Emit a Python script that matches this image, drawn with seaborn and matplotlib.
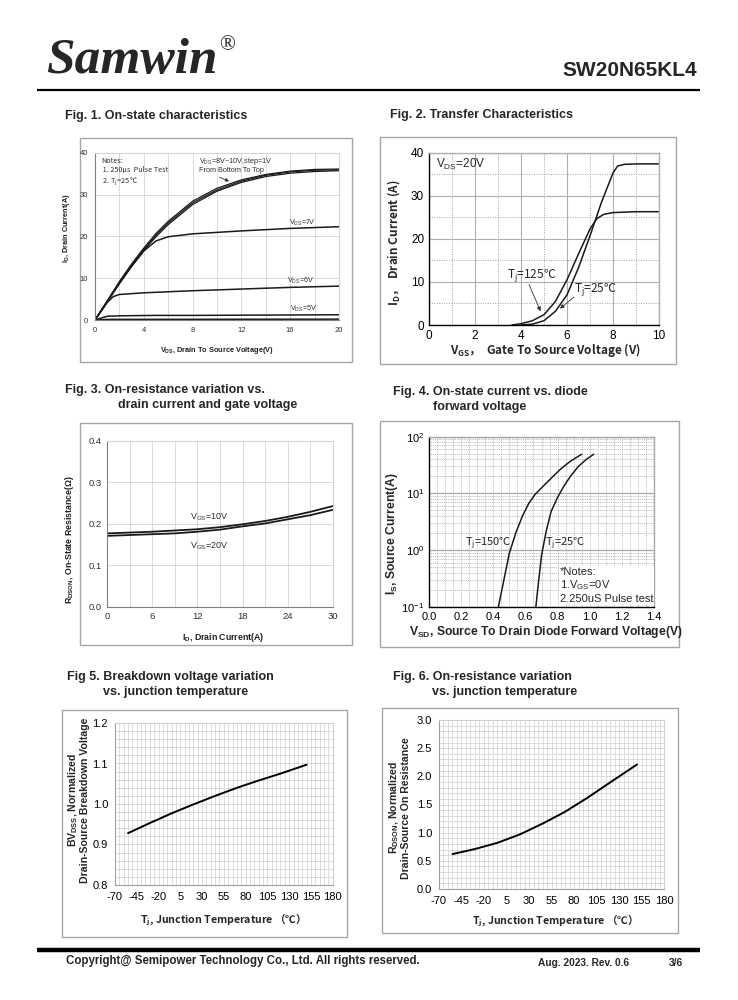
import numpy as np
import matplotlib
matplotlib.use("Agg")
import matplotlib.pyplot as plt
import seaborn as sns
from matplotlib.patches import Rectangle
from matplotlib.lines import Line2D
from matplotlib.ticker import MultipleLocator, LogLocator, FormatStrFormatter, NullFormatter, FixedLocator

# ---------------- data ----------------
# Fig 1: output characteristics
fig1_vds = [0, 1, 2, 3, 4, 5, 6, 8, 10, 12, 14, 16, 18, 20]
fig1_id_vgs8 = [0, 4.4, 8.8, 12.9, 16.6, 19.9, 22.8, 27.6, 30.8, 32.9, 34.3, 35.1, 35.5, 35.7]
fig1_id_vgs9 = [0, 4.5, 9.0, 13.1, 16.9, 20.3, 23.2, 28.0, 31.1, 33.2, 34.6, 35.4, 35.8, 35.9]
fig1_id_vgs10 = [0, 4.6, 9.2, 13.4, 17.2, 20.7, 23.6, 28.4, 31.5, 33.5, 34.8, 35.6, 36.0, 36.1]
fig1_vds7 = [0, 1, 2, 3, 4, 5, 6, 8, 12, 16, 20]
fig1_id_vgs7 = [0, 4.3, 8.7, 12.8, 16.5, 18.9, 19.9, 20.6, 21.3, 21.9, 22.3]
fig1_vds6 = [0, 1, 1.5, 2, 4, 8, 12, 16, 20]
fig1_id_vgs6 = [0, 4.2, 5.6, 6.1, 6.5, 7.0, 7.4, 7.8, 8.1]
fig1_vds5 = [0, 1, 2, 5, 8, 12, 16, 20]
fig1_id_vgs5 = [0, 0.9, 1.0, 1.1, 1.1, 1.15, 1.2, 1.25]
fig1_vds4 = [0, 1, 20]
fig1_id_vgs4 = [0, 0.15, 0.2]

# Fig 2: transfer characteristics
fig2_vgs_125 = [3.6, 4.0, 4.5, 5.0, 5.5, 6.0, 6.5, 7.0, 7.3, 7.6, 8.0, 8.5, 9.0, 10.0]
fig2_id_125 = [0, 0.3, 1.0, 2.4, 5.5, 10.5, 16.5, 22.3, 24.7, 25.7, 26.1, 26.2, 26.3, 26.3]
fig2_vgs_25 = [4.0, 4.5, 5.0, 5.5, 6.0, 6.5, 7.0, 7.5, 8.0, 8.2, 8.5, 9.0, 10.0]
fig2_id_25 = [0, 0.2, 1.0, 3.2, 7.0, 13.3, 20.7, 28.5, 35.3, 36.9, 37.3, 37.4, 37.4]

# Fig 3: on-resistance vs drain current
fig3_id = [0, 3, 6, 9, 12, 15, 18, 21, 24, 27, 30]
fig3_r_vgs10 = [0.177, 0.179, 0.181, 0.184, 0.187, 0.192, 0.199, 0.207, 0.217, 0.229, 0.243]
fig3_r_vgs20 = [0.171, 0.173, 0.175, 0.177, 0.181, 0.186, 0.194, 0.201, 0.211, 0.221, 0.234]

# Fig 4: body diode forward characteristics
fig4_vsd_150 = [0.432, 0.46, 0.50, 0.54, 0.58, 0.62, 0.66, 0.70, 0.76, 0.82, 0.88, 0.95]
fig4_is_150 = [0.1, 0.245, 0.88, 2.0, 3.9, 6.6, 9.6, 12.5, 18.5, 27.0, 37.0, 49.0]
fig4_vsd_25 = [0.665, 0.68, 0.70, 0.73, 0.76, 0.80, 0.84, 0.88, 0.93, 0.98, 1.025]
fig4_is_25 = [0.1, 0.25, 0.8, 2.2, 4.8, 8.5, 13.5, 20.0, 30.0, 40.0, 49.0]

# Fig 5: breakdown voltage vs temperature
fig5_tj = [-55, -30, -5, 20, 45, 70, 95, 120, 150]
fig5_bv = [0.928, 0.953, 0.977, 0.999, 1.020, 1.040, 1.058, 1.075, 1.097]

# Fig 6: on-resistance vs temperature
fig6_tj = [-55, -30, -5, 20, 45, 70, 95, 120, 150]
fig6_r = [0.62, 0.71, 0.82, 0.97, 1.16, 1.37, 1.62, 1.89, 2.21]

temp_ticks = [-70, -45, -20, 5, 30, 55, 80, 105, 130, 155, 180]

# ---------------- style ----------------
sns.set_style("white")
plt.rcParams['font.family'] = ['Liberation Sans', 'Noto Sans CJK SC', 'DejaVu Sans']
plt.rcParams['mathtext.default'] = 'regular'
plt.rcParams['axes.unicode_minus'] = False

W, H = 738, 1000
fig = plt.figure(figsize=(7.38, 10), dpi=100)
fig.patch.set_facecolor('white')
CJK = 'Noto Sans CJK SC'


def px_axes(x0, y0, x1, y1):
    return fig.add_axes([x0 / W, 1 - y1 / H, (x1 - x0) / W, (y1 - y0) / H])


def frame(x0, y0, x1, y1, color='#a6a6a6', lw=1.0):
    fig.add_artist(Rectangle((x0 / W, 1 - y1 / H), (x1 - x0) / W, (y1 - y0) / H,
                             transform=fig.transFigure, fill=False,
                             edgecolor=color, lw=lw, zorder=0))


def ftext(x, y, s, **kw):
    kw.setdefault('va', 'center')
    return fig.text(x / W, 1 - y / H, s, **kw)


def hline(x0, x1, y, lw, color='black'):
    fig.add_artist(Line2D([x0 / W, x1 / W], [1 - y / H, 1 - y / H],
                          transform=fig.transFigure, color=color, lw=lw,
                          solid_capstyle='butt'))


def style_spines(ax, lb='#707070', tr='#c8c8c8', lw=0.8):
    for s in ['left', 'bottom']:
        ax.spines[s].set_color(lb)
        ax.spines[s].set_linewidth(lw)
    for s in ['top', 'right']:
        ax.spines[s].set_color(tr)
        ax.spines[s].set_linewidth(lw)
    ax.set_xlabel('')
    ax.set_ylabel('')


# ---------------- header / footer ----------------
ftext(46, 61, "Samwin", family='Liberation Serif', style='italic', weight='bold',
      fontsize=37, ha='left')
ftext(219, 46, "®", family='Liberation Serif', fontsize=15, ha='left')
ftext(697, 70, "SW20N65KL4", weight='bold', fontsize=15, ha='right')
hline(37, 700, 90, 1.6)
hline(37, 700, 950, 3.2)
ftext(66, 961, "Copyright@ Semipower Technology Co., Ltd. All rights reserved.",
      weight='bold', fontsize=8.3, ha='left')
ftext(538, 963, "Aug. 2023. Rev. 0.6", weight='bold', fontsize=7.3, ha='left')
ftext(669, 963, "3/6", weight='bold', fontsize=7.3, ha='left')

# titles
TS = 9
ftext(65, 116, "Fig. 1. On-state characteristics", weight='bold', fontsize=TS, ha='left')
ftext(390, 115, "Fig. 2. Transfer Characteristics", weight='bold', fontsize=TS, ha='left')
ftext(65, 390, "Fig. 3. On-resistance variation vs.", weight='bold', fontsize=TS, ha='left')
ftext(118, 405, "drain current and gate voltage", weight='bold', fontsize=TS, ha='left')
ftext(393, 392, "Fig. 4. On-state current vs. diode", weight='bold', fontsize=TS, ha='left')
ftext(433, 407, "forward voltage", weight='bold', fontsize=TS, ha='left')
ftext(67, 677, "Fig 5. Breakdown voltage variation", weight='bold', fontsize=TS, ha='left')
ftext(103, 692, "vs. junction temperature", weight='bold', fontsize=TS, ha='left')
ftext(393, 677, "Fig. 6. On-resistance variation", weight='bold', fontsize=TS, ha='left')
ftext(432, 692, "vs. junction temperature", weight='bold', fontsize=TS, ha='left')

# frames
frame(80, 138, 352, 362)
frame(380, 137, 676, 364)
frame(80, 423, 352, 645)
frame(380, 421, 679, 647)
frame(62, 710, 347, 937)
frame(382, 708, 678, 933)

LW = 1.1

# ---------------- Fig 1 ----------------
ax1 = px_axes(95, 152.7, 339, 320)
for ys in [fig1_id_vgs8, fig1_id_vgs9, fig1_id_vgs10]:
    sns.lineplot(x=fig1_vds, y=ys, ax=ax1, color='#1a1a1a', lw=0.9)
sns.lineplot(x=fig1_vds7, y=fig1_id_vgs7, ax=ax1, color='#1a1a1a', lw=LW)
sns.lineplot(x=fig1_vds6, y=fig1_id_vgs6, ax=ax1, color='#1a1a1a', lw=LW)
sns.lineplot(x=fig1_vds5, y=fig1_id_vgs5, ax=ax1, color='#1a1a1a', lw=LW)
sns.lineplot(x=fig1_vds4, y=fig1_id_vgs4, ax=ax1, color='#1a1a1a', lw=LW)
ax1.set_xlim(0, 20)
ax1.set_ylim(0, 40)
ax1.xaxis.set_major_locator(MultipleLocator(4))
ax1.xaxis.set_minor_locator(MultipleLocator(2))
ax1.yaxis.set_major_locator(MultipleLocator(10))
ax1.grid(True, which='both', axis='x', color='#d4d4d4', lw=0.6)
ax1.grid(True, which='major', axis='y', color='#d4d4d4', lw=0.6)
ax1.tick_params(labelsize=5.5, colors='#303030', length=0, pad=5)
ax1.tick_params(which='minor', length=0)
style_spines(ax1, lb='#808080', tr='#d4d4d4')
ax1.text(0.5, 39, "Notes:\n 1. 250μs  Pulse Test\n 2. T$_j$=25 ℃", fontsize=5.2,
         va='top', ha='left', color='#303030', family=CJK, linespacing=1.15)
ax1.text(8.5, 39.3, "V$_{DS}$=8V~10V,step=1V\nFrom Bottom To Top", fontsize=5.2,
         va='top', ha='left', color='#303030', linespacing=1.15)
ax1.annotate("", xy=(11.2, 32.9), xytext=(10.0, 34.4),
             arrowprops=dict(arrowstyle='-|>', color='#303030', lw=0.6,
                             mutation_scale=5))
ax1.text(15.9, 23.2, "V$_{DS}$=7V", fontsize=5.2, color='#303030', va='center')
ax1.text(15.7, 9.3, "V$_{DS}$=6V", fontsize=5.2, color='#303030', va='center')
ax1.text(16.0, 2.6, "V$_{DS}$=5V", fontsize=5.2, color='#303030', va='center')
ftext(66, 228, "I$_D$, Drain Current(A)", rotation=90, weight='bold', fontsize=5.3,
      ha='center', color='#202020')
ftext(217, 350, "V$_{DS}$, Drain To Source Voltage(V)", weight='bold', fontsize=5.3,
      ha='center', color='#202020')

# ---------------- Fig 2 ----------------
ax2 = px_axes(429, 152.7, 659, 325)
sns.lineplot(x=fig2_vgs_125, y=fig2_id_125, ax=ax2, color='#1a1a1a', lw=LW)
sns.lineplot(x=fig2_vgs_25, y=fig2_id_25, ax=ax2, color='#1a1a1a', lw=LW)
ax2.set_xlim(0, 10)
ax2.set_ylim(0, 40)
ax2.xaxis.set_major_locator(MultipleLocator(2))
ax2.xaxis.set_minor_locator(MultipleLocator(1))
ax2.yaxis.set_major_locator(MultipleLocator(10))
ax2.yaxis.set_minor_locator(MultipleLocator(5))
ax2.grid(True, which='major', color='#b0b0b0', lw=0.8)
ax2.grid(True, which='minor', color='#a0a0a0', lw=0.7, ls=(0, (1, 1.5)))
ax2.tick_params(labelsize=8.5, colors='black', length=2, pad=1.5)
ax2.tick_params(which='minor', length=0)
style_spines(ax2, lb='black', tr='#b0b0b0', lw=1.0)
ax2.text(0.3, 37.2, "V$_{DS}$=20V", fontsize=8.5, va='center', ha='left')
ax2.text(3.4, 11.3, "T$_j$=125℃", fontsize=8.5, va='center', ha='left', family=CJK)
ax2.annotate("", xy=(4.9, 2.6), xytext=(4.3, 10.0),
             arrowprops=dict(arrowstyle='-|>', color='#303030', lw=0.6, mutation_scale=6))
ax2.text(6.3, 8.2, "T$_j$=25℃", fontsize=8.5, va='center', ha='left', family=CJK)
ax2.annotate("", xy=(5.6, 3.4), xytext=(6.4, 6.9),
             arrowprops=dict(arrowstyle='-|>', color='#303030', lw=0.6, mutation_scale=6))
ftext(394, 243, "I$_D$，  Drain Current (A)", rotation=90, weight='bold', fontsize=8.5,
      ha='center', family=CJK)
ftext(545, 350, "V$_{GS}$，  Gate To Source Voltage (V)", weight='bold', fontsize=8.5,
      ha='center', family=CJK)

# ---------------- Fig 3 ----------------
ax3 = px_axes(107, 441, 333, 606.7)
sns.lineplot(x=fig3_id, y=fig3_r_vgs10, ax=ax3, color='#1a1a1a', lw=1.3)
sns.lineplot(x=fig3_id, y=fig3_r_vgs20, ax=ax3, color='#1a1a1a', lw=1.3)
ax3.set_xlim(0, 30)
ax3.set_ylim(0, 0.4)
ax3.xaxis.set_major_locator(MultipleLocator(6))
ax3.xaxis.set_minor_locator(MultipleLocator(3))
ax3.yaxis.set_major_locator(MultipleLocator(0.1))
ax3.yaxis.set_major_formatter(FormatStrFormatter('%.1f'))
ax3.grid(True, which='both', axis='x', color='#d4d4d4', lw=0.6)
ax3.grid(True, which='major', axis='y', color='#d4d4d4', lw=0.6)
ax3.tick_params(labelsize=6.8, colors='#303030', length=0, pad=4)
ax3.tick_params(which='minor', length=0)
style_spines(ax3, lb='#808080', tr='#d4d4d4')
ax3.text(11.0, 0.217, "V$_{GS}$=10V", fontsize=6.5, color='#303030', va='center')
ax3.text(11.0, 0.146, "V$_{GS}$=20V", fontsize=6.5, color='#303030', va='center')
ftext(70, 540, "R$_{DSON}$, On-State Resistance(Ω)", rotation=90, weight='bold',
      fontsize=6.3, ha='center', color='#202020')
ftext(223, 638, "I$_D$, Drain Current(A)", weight='bold', fontsize=6.3, ha='center',
      color='#202020')

# ---------------- Fig 4 ----------------
ax4 = px_axes(429, 436.7, 654, 606.7)
sns.lineplot(x=fig4_vsd_150, y=fig4_is_150, ax=ax4, color='#1a1a1a', lw=LW)
sns.lineplot(x=fig4_vsd_25, y=fig4_is_25, ax=ax4, color='#1a1a1a', lw=LW)
ax4.set_yscale('log')
ax4.set_xlim(0, 1.4)
ax4.set_ylim(0.1, 100)
ax4.xaxis.set_major_locator(MultipleLocator(0.2))
ax4.xaxis.set_minor_locator(MultipleLocator(0.05))
ax4.xaxis.set_major_formatter(FormatStrFormatter('%.1f'))
ax4.yaxis.set_major_locator(LogLocator(base=10))
ax4.yaxis.set_minor_locator(LogLocator(base=10, subs=np.arange(2, 10) * 1.0))
ax4.yaxis.set_minor_formatter(NullFormatter())
ax4.grid(True, which='major', axis='y', color='#a8a8a8', lw=0.9)
ax4.grid(True, which='minor', axis='y', color='#a8a8a8', lw=0.6, ls=(0, (1, 1.2)))
ax4.grid(True, which='both', axis='x', color='#a8a8a8', lw=0.6, ls=(0, (1, 1.2)))
ax4.tick_params(labelsize=8, colors='black', length=2, pad=1.5)
ax4.tick_params(which='minor', length=0)
style_spines(ax4, lb='black', tr='#a8a8a8', lw=1.0)
ax4.text(0.225, 1.3, "T$_j$=150℃", fontsize=8, va='center', ha='left', family=CJK)
ax4.text(0.72, 1.3, "T$_j$=25℃", fontsize=8, va='center', ha='left', family=CJK)
ax4.text(0.815, 0.5, "*Notes:\n1.V$_{GS}$=0V\n2.250uS Pulse test", fontsize=8,
         va='top', ha='left', linespacing=1.15,
         bbox=dict(facecolor='white', edgecolor='none', pad=0.5))
ftext(392, 534, "I$_S$, Source Current(A)", rotation=90, weight='bold', fontsize=8.7,
      ha='center')
ftext(546, 632, "V$_{SD}$, Source To Drain Diode Forward Voltage(V)", weight='bold',
      fontsize=8.7, ha='center')

# ---------------- Fig 5 ----------------
ax5 = px_axes(115, 723, 332.7, 885)
sns.lineplot(x=fig5_tj, y=fig5_bv, ax=ax5, color='black', lw=1.4)
ax5.set_xlim(-70, 180)
ax5.set_ylim(0.8, 1.2)
ax5.xaxis.set_major_locator(FixedLocator(temp_ticks))
ax5.xaxis.set_minor_locator(MultipleLocator(5))
ax5.yaxis.set_major_locator(MultipleLocator(0.1))
ax5.yaxis.set_minor_locator(MultipleLocator(0.02))
ax5.yaxis.set_major_formatter(FormatStrFormatter('%.1f'))
ax5.grid(True, which='both', color='#cfcfcf', lw=0.5)
ax5.tick_params(labelsize=8, colors='black', length=0, pad=5)
ax5.tick_params(which='minor', length=0)
style_spines(ax5, lb='#a0a0a0', tr='#cfcfcf')
ftext(78, 800, "BV$_{DSS}$, Normalized\nDrain-Source Breakdown Voltage", rotation=90,
      weight='bold', fontsize=7.6, ha='center', multialignment='center', linespacing=1.0)
ftext(221, 920, "T$_j$, Junction Temperature （℃）", weight='bold', fontsize=7.6,
      ha='center', family=CJK)

# ---------------- Fig 6 ----------------
ax6 = px_axes(439, 720, 664, 889)
sns.lineplot(x=fig6_tj, y=fig6_r, ax=ax6, color='black', lw=1.4)
ax6.set_xlim(-70, 180)
ax6.set_ylim(0, 3.0)
ax6.xaxis.set_major_locator(FixedLocator(temp_ticks))
ax6.xaxis.set_minor_locator(MultipleLocator(5))
ax6.yaxis.set_major_locator(MultipleLocator(0.5))
ax6.yaxis.set_minor_locator(MultipleLocator(0.1))
ax6.yaxis.set_major_formatter(FormatStrFormatter('%.1f'))
ax6.grid(True, which='both', color='#cfcfcf', lw=0.5)
ax6.tick_params(labelsize=8, colors='black', length=0, pad=5)
ax6.tick_params(which='minor', length=0)
style_spines(ax6, lb='#a0a0a0', tr='#cfcfcf')
ftext(399, 808, "R$_{DSON}$, Normalized\nDrain-Source On Resistance", rotation=90,
      weight='bold', fontsize=7.6, ha='center', multialignment='center', linespacing=1.0)
ftext(553, 921, "T$_j$, Junction Temperature （℃）", weight='bold', fontsize=7.6,
      ha='center', family=CJK)

fig.savefig("out.png", dpi=100, facecolor='white')
